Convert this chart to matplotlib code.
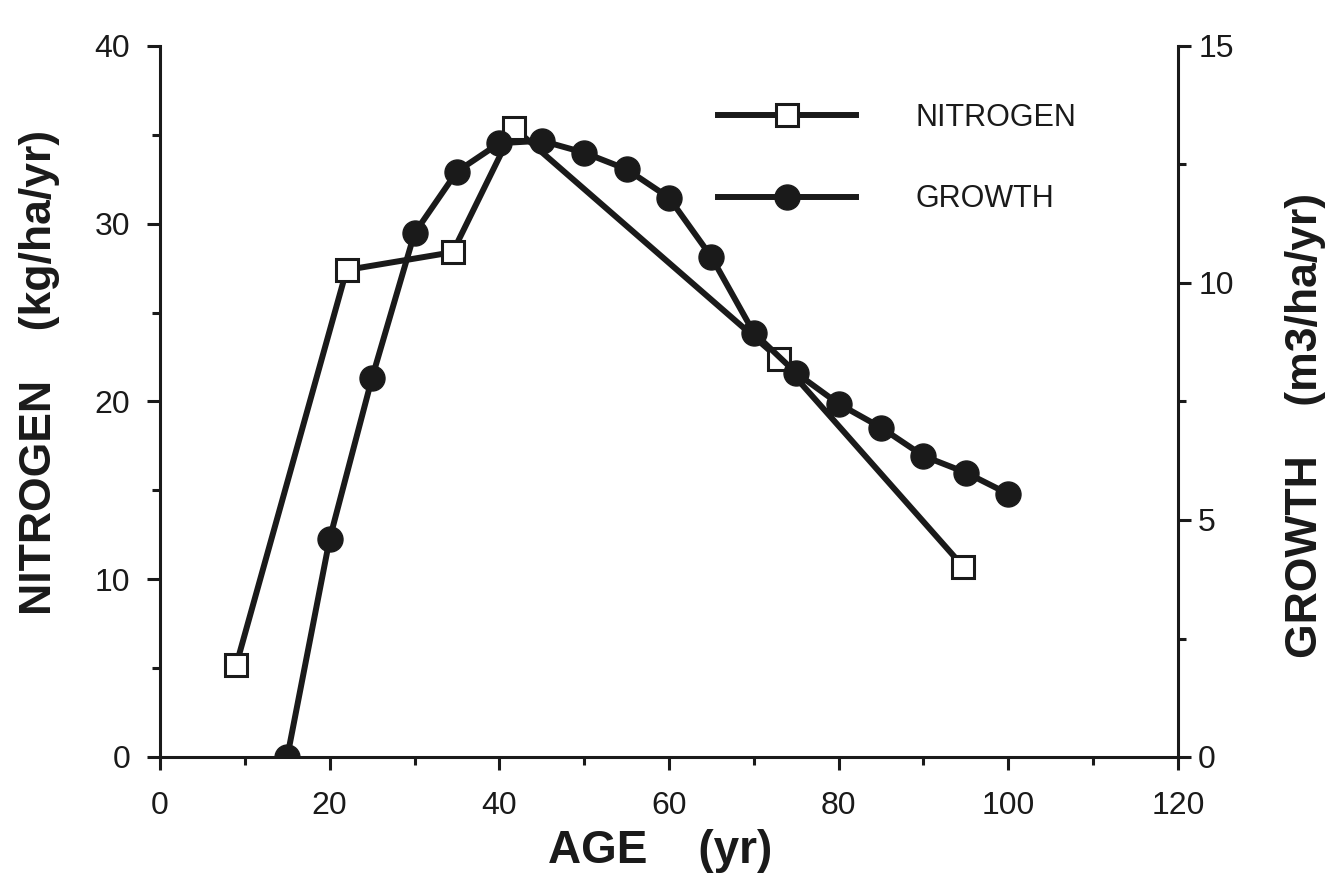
import matplotlib
matplotlib.use("Agg")
import matplotlib.pyplot as plt
from matplotlib.ticker import MultipleLocator

# Data
nitrogen_age = [9, 22, 34.5, 41.7, 73, 94.7]
nitrogen_val = [5.2, 27.4, 28.4, 35.4, 22.4, 10.7]

growth_age = [15, 20, 25, 30, 35, 40, 45, 50, 55, 60, 65, 70, 75, 80, 85, 90, 95, 100]
growth_val = [0.0, 4.6, 8.0, 11.05, 12.35, 12.95, 13.0, 12.75, 12.4, 11.8, 10.55,
              8.95, 8.1, 7.45, 6.95, 6.35, 6.0, 5.55]

x_ticks = [0, 20, 40, 60, 80, 100, 120]
left_ticks = [0, 10, 20, 30, 40]
right_ticks = [0, 5, 10, 15]

plt.rcParams['font.family'] = ['Liberation Sans', 'DejaVu Sans']
INK = '#1a1a1a'

fig = plt.figure(figsize=(13.27, 8.89), dpi=100)
ax = fig.add_axes([160/1327, 1-757/889, (1178-160)/1327, (757-46)/889])
ax2 = ax.twinx()

lw = 4.3
l1, = ax.plot(nitrogen_age, nitrogen_val, color=INK, lw=lw, marker='s',
              markersize=16, markerfacecolor='white', markeredgecolor=INK,
              markeredgewidth=2.2, zorder=3, label='NITROGEN')
l2, = ax2.plot(growth_age, growth_val, color=INK, lw=lw, marker='o',
               markersize=18, markerfacecolor=INK, markeredgecolor=INK,
               zorder=3, label='GROWTH')

ax.set_xlim(0, 120)
ax.set_ylim(0, 40)
ax2.set_ylim(0, 15)
ax.set_xticks(x_ticks)
ax.set_yticks(left_ticks)
ax2.set_yticks(right_ticks)
ax.xaxis.set_minor_locator(MultipleLocator(10))
ax.yaxis.set_minor_locator(MultipleLocator(5))
ax2.yaxis.set_minor_locator(MultipleLocator(2.5))

for a in (ax, ax2):
    a.spines['top'].set_visible(False)
    for s in ('left', 'right', 'bottom'):
        a.spines[s].set_linewidth(2.2)
        a.spines[s].set_color(INK)
ax.spines['right'].set_visible(False)
ax2.spines['left'].set_visible(False)
ax2.spines['bottom'].set_visible(False)

ax.tick_params(axis='both', which='major', direction='out', length=9.5, width=2.2,
               labelsize=23, colors=INK)
ax.tick_params(axis='y', which='major', pad=12)
ax.tick_params(axis='x', which='major', pad=15)
ax.tick_params(axis='both', which='minor', direction='out', length=6, width=2.2,
               colors=INK)
ax2.tick_params(axis='y', which='major', direction='out', length=9.5, width=2.2,
                labelsize=23, colors=INK, pad=5)
ax2.tick_params(axis='y', which='minor', direction='out', length=6, width=2.2,
                colors=INK)

fig.text(40/1327, 1-372/889, 'NITROGEN    (kg/ha/yr)', rotation=90, fontsize=32,
         fontweight='bold', ha='center', va='center', color=INK)
fig.text(1305/1327, 1-425/889, 'GROWTH    (m3/ha/yr)', rotation=90, fontsize=32,
         fontweight='bold', ha='center', va='center', color=INK)
fig.text(660/1327, 1-851/889, 'AGE    (yr)', fontsize=33, fontweight='bold',
         ha='center', va='center', color=INK)

leg = ax2.legend(handles=[l1, l2], loc='upper left',
                 bbox_to_anchor=(718/1327, 1-103/889), bbox_transform=fig.transFigure,
                 frameon=False, borderpad=0, borderaxespad=0, handlelength=4.5,
                 handletextpad=1.95, labelspacing=1.68,
                 prop={'family': ['Liberation Sans', 'DejaVu Sans'], 'size': 22})
for t in leg.get_texts():
    t.set_color(INK)

fig.savefig('out.png', dpi=100, facecolor='white')
